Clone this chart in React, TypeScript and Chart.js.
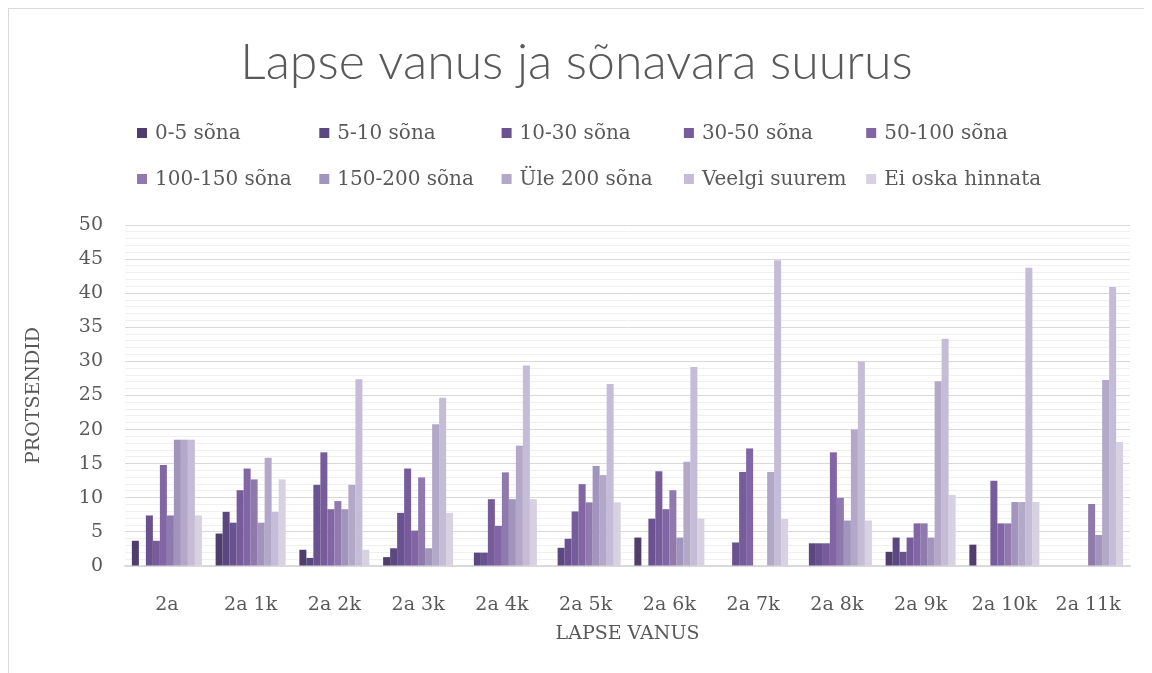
import React, { useEffect, useRef } from "react";
import { Chart, registerables } from "chart.js";

Chart.register(...registerables);

const categories = ["2a", "2a 1k", "2a 2k", "2a 3k", "2a 4k", "2a 5k", "2a 6k", "2a 7k", "2a 8k", "2a 9k", "2a 10k", "2a 11k"];

const seriesLabels = ["0-5 sõna", "5-10 sõna", "10-30 sõna", "30-50 sõna", "50-100 sõna", "100-150 sõna", "150-200 sõna", "Üle 200 sõna", "Veelgi suurem", "Ei oska hinnata"];

const s0_5 = [3.7, 4.76, 2.38, 1.3, 0, 0, 4.17, 0, 0, 2.08, 3.13, 0];
const s5_10 = [0, 7.94, 1.19, 2.6, 1.96, 2.67, 0, 0, 3.33, 4.17, 0, 0];
const s10_30 = [7.41, 6.35, 11.9, 7.79, 1.96, 4.0, 6.94, 3.45, 3.33, 2.08, 0, 0];
const s30_50 = [3.7, 11.11, 16.67, 14.29, 9.8, 8.0, 13.89, 13.79, 3.33, 4.17, 12.5, 0];
const s50_100 = [14.81, 14.29, 8.33, 5.19, 5.88, 12.0, 8.33, 17.24, 16.67, 6.25, 6.25, 0];
const s100_150 = [7.41, 12.7, 9.52, 12.99, 13.73, 9.33, 11.11, 0, 10.0, 6.25, 6.25, 9.09];
const s150_200 = [18.52, 6.35, 8.33, 2.6, 9.8, 14.67, 4.17, 0, 6.67, 4.17, 9.38, 4.55];
const sUle200 = [18.52, 15.87, 11.9, 20.78, 17.65, 13.33, 15.28, 13.79, 20.0, 27.08, 9.38, 27.27];
const sVeelgi = [18.52, 7.94, 27.38, 24.68, 29.41, 26.67, 29.17, 44.83, 30.0, 33.33, 43.75, 40.91];
const sEiOska = [7.41, 12.7, 2.38, 7.79, 9.8, 9.33, 6.94, 6.9, 6.67, 10.42, 9.38, 18.18];

const seriesValues = [s0_5, s5_10, s10_30, s30_50, s50_100, s100_150, s150_200, sUle200, sVeelgi, sEiOska];

const seriesColors = ["#4f3d6c", "#5c4880", "#6a5290", "#765c9b", "#8165a5", "#9079ad", "#a295bd", "#b3a8c8", "#c5bcd7", "#d7d1e2"];

const TEXT = "#595959";
const SERIF = "'DejaVu Serif', serif";

const legendPlugin = {
  id: "gridLegend",
  afterDraw(chart: any) {
    const ctx = chart.ctx;
    ctx.save();
    ctx.font = `20px ${SERIF}`;
    ctx.textBaseline = "middle";
    ctx.textAlign = "left";
    chart.data.datasets.forEach((ds: any, i: number) => {
      const col = i % 5;
      const row = Math.floor(i / 5);
      const x = 128 + col * 182.3;
      const y = 124 + row * 46;
      ctx.fillStyle = ds.backgroundColor;
      ctx.fillRect(x, y - 5, 10, 10);
      ctx.fillStyle = TEXT;
      ctx.fillText(ds.label, x + 18, y + 1);
    });
    ctx.restore();
  },
};

export default function App() {
  const ref = useRef<HTMLCanvasElement | null>(null);
  useEffect(() => {
    if (!ref.current) return;
    const chart = new Chart(ref.current, {
      type: "bar",
      data: {
        labels: categories,
        datasets: seriesLabels.map((label, i) => ({
          label,
          data: seriesValues[i],
          backgroundColor: seriesColors[i],
          borderWidth: 0,
          categoryPercentage: 0.836,
          barPercentage: 1.0,
        })),
      },
      options: {
        responsive: false,
        animation: false,
        devicePixelRatio: 1,
        layout: { padding: { left: 14, right: 22, top: 0, bottom: 28 } },
        plugins: {
          legend: { display: false },
          tooltip: { enabled: false },
          title: {
            display: true,
            text: "Lapse vanus ja sõnavara suurus",
            color: TEXT,
            font: { family: "Lato", size: 50, weight: "300" as any },
            padding: { top: 24, bottom: 132 },
          },
        },
        scales: {
          x: {
            grid: { display: false },
            border: { display: true, color: "#d9d9d9", width: 1.5 },
            ticks: { color: TEXT, font: { family: SERIF, size: 19 }, padding: 20, autoSkip: false, maxRotation: 0 },
            title: { display: true, text: "LAPSE VANUS", color: TEXT, font: { family: SERIF, size: 19 }, padding: { top: 0, bottom: 0 } },
            afterFit: (scale: any) => { scale.height = 79; },
          },
          y: {
            min: 0,
            max: 50,
            border: { display: false },
            grid: {
              drawTicks: false,
              color: (c: any) => (c.tick && Math.round(c.tick.value) % 5 === 0 ? "#d9d9d9" : "#f0f0f0"),
              lineWidth: 1,
            },
            ticks: {
              stepSize: 1,
              autoSkip: false,
              padding: 22,
              color: TEXT,
              font: { family: SERIF, size: 19 },
              callback: (v: any) => (Math.round(v) % 5 === 0 ? String(v) : ""),
            },
            title: { display: true, text: "PROTSENDID", color: TEXT, font: { family: SERIF, size: 19 }, padding: { top: 0, bottom: 0 } },
            afterFit: (scale: any) => { scale.width = 102; },
          },
        },
      },
      plugins: [legendPlugin],
    });
    return () => chart.destroy();
  }, []);
  return (
    <div style={{ width: 1144, height: 665, overflow: "hidden", borderLeft: "1px solid #d9d9d9", borderTop: "1px solid #d9d9d9", boxSizing: "border-box" }}>
      <canvas ref={ref} width={1143} height={664} style={{ display: "block" }} />
    </div>
  );
}
